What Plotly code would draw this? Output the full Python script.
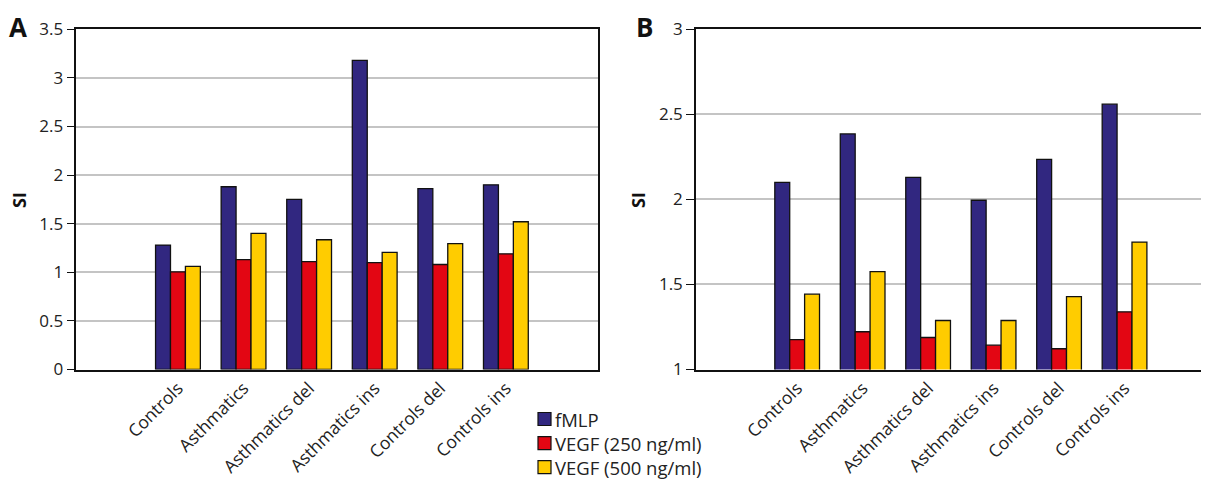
import plotly.graph_objects as go

categories = ["Controls", "Asthmatics", "Asthmatics del", "Asthmatics ins", "Controls del", "Controls ins"]
series_names = ["fMLP", "VEGF (250 ng/ml)", "VEGF (500 ng/ml)"]
colors = ["#312780", "#e30613", "#ffcc00"]

a_fmlp = [1.28, 1.88, 1.75, 3.18, 1.86, 1.90]
a_vegf250 = [1.005, 1.13, 1.11, 1.10, 1.08, 1.19]
a_vegf500 = [1.06, 1.40, 1.335, 1.205, 1.295, 1.52]

b_fmlp = [2.10, 2.385, 2.13, 1.995, 2.235, 2.56]
b_vegf250 = [1.176, 1.222, 1.188, 1.143, 1.122, 1.339]
b_vegf500 = [1.443, 1.575, 1.288, 1.288, 1.429, 1.749]

FONT = "Open Sans"
# page body has an 8px margin; figure sized to fill the rest of the window
W, H = 1201, 484

fig = go.Figure()
for name, col, ya in zip(series_names, colors, [a_fmlp, a_vegf250, a_vegf500]):
    fig.add_trace(go.Bar(x=categories, y=ya, name=name, marker=dict(color=col, line=dict(color="#111", width=1.3)),
                         xaxis="x", yaxis="y", showlegend=False))
for name, col, yb in zip(series_names, colors, [b_fmlp, b_vegf250, b_vegf500]):
    fig.add_trace(go.Bar(x=categories, y=yb, name=name, marker=dict(color=col, line=dict(color="#111", width=1.3)),
                         xaxis="x2", yaxis="y2", showlegend=False))

ydom = [1 - 361.5 / H, 1 - 21.3 / H]
common_x = dict(type="category", showgrid=False, showline=True, linecolor="#111", linewidth=1.5, automargin=False,
                tickangle=-45, ticks="", tickfont=dict(family=FONT, size=17.5, color="#222"), zeroline=False)
common_y = dict(showgrid=True, gridcolor="#c4c4c4", gridwidth=1.5, showline=True, linecolor="#111", linewidth=1.5,
                ticks="outside", ticklen=8, tickcolor="#111", tickwidth=1.2, dtick=0.5, automargin=False,
                tickfont=dict(family=FONT, size=17, color="#222"), zeroline=False)

# legend drawn as swatches + a multi-line label block
LEG_FONT = 18.5
legend_x0 = 530
row_gap = LEG_FONT * 1.3
legend_rows = [411 + i * row_gap for i in range(len(series_names))]
shapes = []
for col, yc in zip(colors, legend_rows):
    shapes.append(dict(type="rect", xref="paper", yref="paper",
                       x0=legend_x0 / W, x1=(legend_x0 + 13) / W,
                       y0=1 - (yc + 6.5) / H, y1=1 - (yc - 6.5) / H,
                       fillcolor=col, line=dict(color="#111", width=1.2)))
annotations = [dict(text="<br>".join(series_names), x=(legend_x0 + 16) / W,
                    y=1 - (legend_rows[0] + legend_rows[-1]) / 2 / H, xref="paper", yref="paper",
                    xanchor="left", yanchor="middle", align="left", showarrow=False, borderpad=0,
                    font=dict(family=FONT, size=LEG_FONT, color="#222"))]

annotations += [
    dict(text="<b>A</b>", x=0 / W, y=1.0, xref="paper", yref="paper", xanchor="left", yanchor="top",
         showarrow=False, borderpad=0, font=dict(family=FONT, size=26, color="#111")),
    dict(text="<b>B</b>", x=627 / W, y=1.0, xref="paper", yref="paper", xanchor="left", yanchor="top",
         showarrow=False, borderpad=0, font=dict(family=FONT, size=26, color="#111")),
    dict(text="<b>SI</b>", x=11 / W, y=1 - 192 / H, xref="paper", yref="paper", xanchor="center", yanchor="middle",
         textangle=-90, showarrow=False, font=dict(family=FONT, size=18, color="#111")),
    dict(text="<b>SI</b>", x=630 / W, y=1 - 192 / H, xref="paper", yref="paper", xanchor="center", yanchor="middle",
         textangle=-90, showarrow=False, font=dict(family=FONT, size=18, color="#111")),
]

fig.update_layout(
    width=W, height=H, margin=dict(l=0, r=0, t=0, b=0, autoexpand=False),
    paper_bgcolor="white", plot_bgcolor="white",
    barmode="group", bargap=0.317, bargroupgap=0,
    font=dict(family=FONT, size=17, color="#222"),
    xaxis=dict(common_x, domain=[68.3 / W, 589.7 / W], range=[-1.55, 6.40], anchor="y", mirror=True),
    yaxis=dict(common_y, domain=ydom, range=[0, 3.5], anchor="x", mirror=True),
    xaxis2=dict(common_x, domain=[688 / W, 1.0], range=[-1.545, 6.29], anchor="y2", mirror=True),
    yaxis2=dict(common_y, domain=ydom, range=[1, 3], anchor="x2", mirror=False),
    showlegend=False,
    shapes=shapes,
    annotations=annotations,
)

fig.write_html("out.html")
